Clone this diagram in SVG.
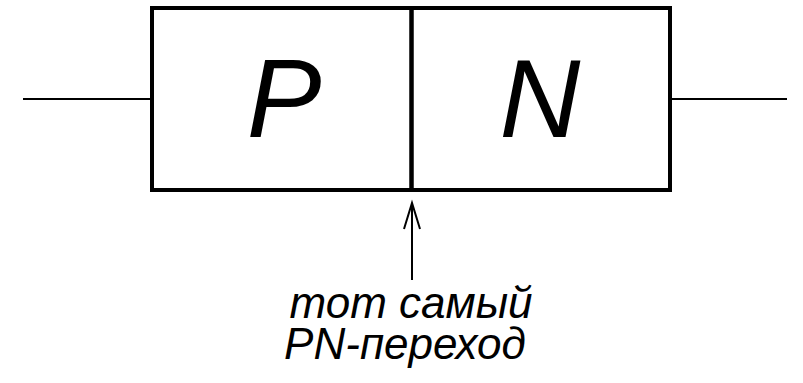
<svg xmlns="http://www.w3.org/2000/svg" width="803" height="383" viewBox="0 0 803 383">
<style>
.box{fill:none;stroke:#000;stroke-width:4}
.wire{stroke:#000;stroke-width:2;fill:none}
.big{font-family:"Liberation Sans",Arial,sans-serif;font-style:italic;font-size:112px;fill:#000;text-anchor:middle}
.lbl{font-family:"Liberation Sans",Arial,sans-serif;font-style:italic;font-size:44px;fill:#000;text-anchor:middle}
</style>
<rect width="803" height="383" fill="#fff"/>
<g id="p-region">
<rect class="box" x="152" y="8" width="259.5" height="182"/>
<text class="big" x="284" y="137">P</text>
</g>
<g id="n-region">
<rect class="box" x="411.5" y="8" width="258.5" height="182"/>
<text class="big" x="540" y="137">N</text>
</g>
<g id="connectors">
<line class="wire" x1="23" y1="99" x2="152" y2="99"/>
<line class="wire" x1="670" y1="99" x2="787" y2="99"/>
<line class="wire" x1="412" y1="280" x2="412" y2="203"/>
<polyline class="wire" points="404,229 412,203 420,229"/>
</g>
<g id="label">
<text class="lbl" x="411" y="318">тот самый</text>
<text class="lbl" x="405" y="359">PN-переход</text>
</g>
</svg>
